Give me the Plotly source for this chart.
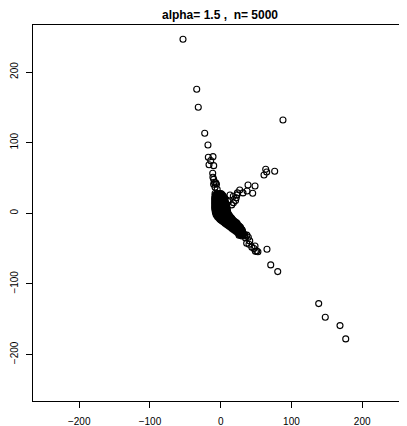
import plotly.graph_objects as go

# ---- data ----
# sparse / outlying points
tail_x = [-53.3, -33.9, -31.7, -22.6, -18.0, 88.0, -17.5, -10.9, -14.1, -16.5, -9.9, -11.3,
          -11.0, -10.0, -9.0, -7.0, -6.0, -10.0, -8.0, -5.0,
          63.6, 65.0, 61.2, 76.3, 38.6, 48.5, 37.2, 45.2, 31.5, 26.9, 23.6, 23.0, 22.0, 21.0,
          13.1, 17.8, 10.7, 15.5, 18.0,
          65.4, 70.7, 80.6, 138.5, 147.8, 168.6, 176.7,
          48.5, 50.9, 52.6, 49.0, 41.0, 40.0, 39.0, 35.0, 37.0, 25.9, 30.1, 34.3, 36.7, 44.0, 47.0]
tail_y = [246.5, 175.6, 150.1, 113.3, 96.7, 132.2, 79.3, 80.2, 74.5, 68.8, 67.4, 56.7,
          51.0, 48.0, 44.0, 43.0, 41.0, 41.0, 37.0, 34.0,
          62.3, 58.5, 54.2, 59.5, 40.1, 38.7, 31.6, 28.3, 28.8, 33.0, 28.8, 26.0, 22.0, 18.0,
          25.9, 24.0, 16.4, 11.8, 15.0,
          -51.0, -73.2, -82.7, -128.0, -147.3, -159.2, -178.0,
          -46.3, -53.4, -54.6, -54.0, -39.2, -44.0, -34.0, -35.0, -31.0, -31.2, -23.7, -30.7, -42.5, -48.0, -50.0]

# dense core of the cloud (points read row by row)
core_x = [-8, -5, -2, 0.5,
          -8, -5, -2, 1, 3,
          -8.5, -5.5, -2.5, 0.5, 3.5, 5,
          -8.5, -5.5, -2.5, 0.5, 3.5, 6,
          -8.5, -5.5, -2.5, 0.5, 3.5, 6.5,
          -8.5, -5.5, -2.5, 0.5, 3.5, 6.5, 8,
          -8.5, -5.5, -2.5, 0.5, 3.5, 6.5, 8.5,
          -8.5, -5.5, -2.5, 0.5, 3.5, 6.5, 9,
          -8, -5, -2, 1, 4, 7, 9.5,
          -7.5, -4.5, -1.5, 1.5, 4.5, 7.5, 10,
          -6.5, -3.5, -0.5, 2.5, 5.5, 8.5, 11.5,
          -4.5, -1.5, 1.5, 4.5, 7.5, 10.5, 13.5,
          -1.5, 1.5, 4.5, 7.5, 10.5, 13.5, 16,
          2, 5, 8, 11, 14, 17, 19,
          6, 9, 12, 15, 18, 21, 23,
          10, 13, 16, 19, 22, 25,
          14, 17, 20, 23, 26, 28,
          18, 21, 24, 27, 30,
          22, 25, 28, 31,
          26, 29, 32,
          29, 33]
core_y = [28, 28, 28, 28,
          25, 25, 25, 25, 25,
          22, 22, 22, 22, 22, 22,
          19, 19, 19, 19, 19, 19,
          16, 16, 16, 16, 16, 16,
          13, 13, 13, 13, 13, 13, 13,
          10, 10, 10, 10, 10, 10, 10,
          7, 7, 7, 7, 7, 7, 7,
          4, 4, 4, 4, 4, 4, 4,
          1, 1, 1, 1, 1, 1, 1,
          -2, -2, -2, -2, -2, -2, -2,
          -5, -5, -5, -5, -5, -5, -5,
          -8, -8, -8, -8, -8, -8, -8,
          -11, -11, -11, -11, -11, -11, -11,
          -14, -14, -14, -14, -14, -14, -14,
          -17, -17, -17, -17, -17, -17,
          -20, -20, -20, -20, -20, -20,
          -23, -23, -23, -23, -23,
          -26, -26, -26, -26,
          -29, -29, -29,
          -32, -32]

# second, interleaved set of core points
core2_x = [-6.5, -3.5, -0.5, 2,
           -7, -4, -1, 2, 4,
           -7, -4, -1, 2, 5,
           -7, -4, -1, 2, 5,
           -7, -4, -1, 2, 5, 7,
           -7, -4, -1, 2, 5, 7.5,
           -7, -4, -1, 2, 5, 8,
           -7, -4, -1, 2, 5, 8,
           -6.5, -3.5, -0.5, 2.5, 5.5, 8.5,
           -5.5, -2.5, 0.5, 3.5, 6.5, 9.5,
           -5, -2, 1, 4, 7, 10, 12.5,
           -3, 0, 3, 6, 9, 12, 15,
           0, 3, 6, 9, 12, 15, 17.5,
           4, 7, 10, 13, 16, 19, 21,
           8, 11, 14, 17, 20, 23,
           12, 15, 18, 21, 24, 26.5,
           16, 19, 22, 25, 28,
           20, 23, 26, 29,
           24, 27, 30,
           27.5, 31]
core2_y = [26.5, 26.5, 26.5, 26.5,
           23.5, 23.5, 23.5, 23.5, 23.5,
           20.5, 20.5, 20.5, 20.5, 20.5,
           17.5, 17.5, 17.5, 17.5, 17.5,
           14.5, 14.5, 14.5, 14.5, 14.5, 14.5,
           11.5, 11.5, 11.5, 11.5, 11.5, 11.5,
           8.5, 8.5, 8.5, 8.5, 8.5, 8.5,
           5.5, 5.5, 5.5, 5.5, 5.5, 5.5,
           2.5, 2.5, 2.5, 2.5, 2.5, 2.5,
           -0.5, -0.5, -0.5, -0.5, -0.5, -0.5,
           -3.5, -3.5, -3.5, -3.5, -3.5, -3.5, -3.5,
           -6.5, -6.5, -6.5, -6.5, -6.5, -6.5, -6.5,
           -9.5, -9.5, -9.5, -9.5, -9.5, -9.5, -9.5,
           -12.5, -12.5, -12.5, -12.5, -12.5, -12.5, -12.5,
           -15.5, -15.5, -15.5, -15.5, -15.5, -15.5,
           -18.5, -18.5, -18.5, -18.5, -18.5, -18.5,
           -21.5, -21.5, -21.5, -21.5, -21.5,
           -24.5, -24.5, -24.5, -24.5,
           -27.5, -27.5, -27.5,
           -30.5, -30.5]

tick_vals = [-200, -100, 0, 100, 200]
tick_text = ["\u2212200", "\u2212100", "0", "100", "200"]
title_text = "alpha= 1.5 ,  n= 5000"

# ---- figure ----
xs = core_x + core2_x + tail_x
ys = core_y + core2_y + tail_y

fig = go.Figure(go.Scatter(
    x=xs, y=ys, mode="markers",
    marker=dict(symbol="circle-open", size=6, color="black", line=dict(width=1.1, color="black")),
    hoverinfo="skip", showlegend=False,
))

# the page body has an 8px margin, so the figure is laid out 8px up/left
W, H = 399, 418
font_family = "Liberation Sans, Arial, Helvetica, sans-serif"
fig.update_layout(
    width=W, height=H,
    margin=dict(l=25, r=0, t=17, b=25, autoexpand=False),
    paper_bgcolor="white", plot_bgcolor="white",
    font=dict(family=font_family, size=10, color="black"),
    title=dict(text="<b>" + title_text + "</b>", x=212 / W, xanchor="center",
               y=1 - 6.5 / H, yanchor="middle", yref="container", automargin=False,
               font=dict(size=12, family=font_family, color="black")),
)
fig.update_xaxes(range=[-265.3, 263.3], tickvals=tick_vals, ticktext=tick_text, automargin=False,
                 showgrid=False, zeroline=False, showline=True, linecolor="black", linewidth=1,
                 mirror=True, ticks="outside", ticklen=6, tickcolor="black", tickwidth=1,
                 ticklabelstandoff=5)
fig.update_yaxes(range=[-266, 266.7], tickvals=tick_vals, ticktext=tick_text, automargin=False,
                 showgrid=False, zeroline=False, showline=True, linecolor="black", linewidth=1,
                 mirror=False, ticks="outside", ticklen=6, tickcolor="black", tickwidth=1,
                 tickangle=-90, ticklabelstandoff=4)

fig.write_html("out.html")
